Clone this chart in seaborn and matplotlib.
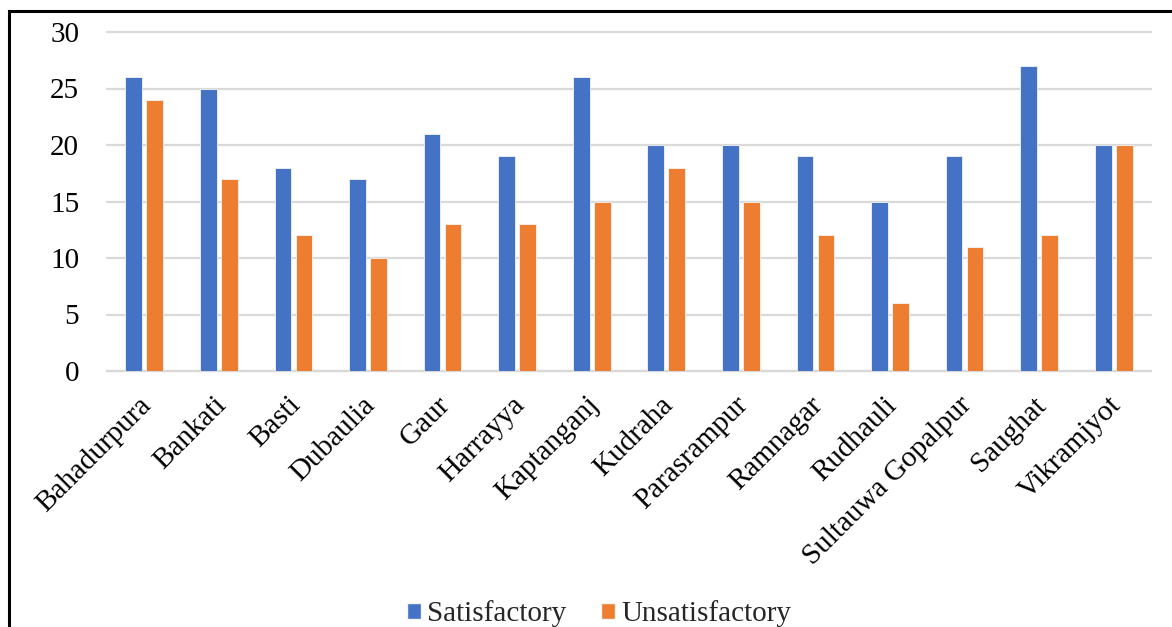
import matplotlib
matplotlib.use("Agg")
import matplotlib.pyplot as plt
import matplotlib.patches as mpatches
import matplotlib.transforms as mtransforms
import pandas as pd
import seaborn as sns

blocks = ["Bahadurpura", "Bankati", "Basti", "Dubaulia", "Gaur", "Harrayya",
          "Kaptanganj", "Kudraha", "Parasrampur", "Ramnagar", "Rudhauli",
          "Sultauwa Gopalpur", "Saughat", "Vikramjyot"]
satisfactory = [26, 25, 18, 17, 21, 19, 26, 20, 20, 19, 15, 19, 27, 20]
unsatisfactory = [24, 17, 12, 10, 13, 13, 15, 18, 15, 12, 6, 11, 12, 20]
series_names = ["Satisfactory", "Unsatisfactory"]
colors = ["#4472C4", "#ED7D31"]

df = pd.DataFrame({
    "Block": blocks * 2,
    "Count": satisfactory + unsatisfactory,
    "Status": [series_names[0]] * len(blocks) + [series_names[1]] * len(blocks),
})

sns.set_theme(style="white")
plt.rcParams["font.family"] = ["Liberation Serif", "DejaVu Serif"]

fig = plt.figure(figsize=(11.72, 6.27), dpi=100)
ax = fig.add_axes([107 / 1172, 1 - 371 / 627, (1151 - 107) / 1172, (371 - 32) / 627])

sns.barplot(data=df, x="Block", y="Count", hue="Status", palette=colors,
            saturation=1, width=0.56, gap=0.2, edgecolor="#f4f4f4", linewidth=0.6,
            ax=ax, legend=False, zorder=3)

ax.set_ylim(0, 30)
ax.set_yticks(range(0, 31, 5))
ax.set_xlim(-0.5, len(blocks) - 0.5)
ax.yaxis.grid(True, color="#d9d9d9", linewidth=1.6, zorder=0)
for gl in ax.get_ygridlines():
    gl.set_clip_on(False)
ax.xaxis.grid(False)
ax.set_axisbelow(True)
for s in ["top", "right", "left"]:
    ax.spines[s].set_visible(False)
ax.spines["bottom"].set_color("#d9d9d9")
ax.spines["bottom"].set_linewidth(1.6)
ax.set_xlabel("")
ax.set_ylabel("")
ax.tick_params(axis="y", length=0, pad=20, labelsize=21, colors="black")
ax.tick_params(axis="x", length=0, pad=15, labelsize=21, colors="black")
shift = mtransforms.ScaledTranslation(-6 / 100, 0, fig.dpi_scale_trans)
for lab in ax.get_xticklabels():
    lab.set_rotation(45)
    lab.set_ha("right")
    lab.set_rotation_mode("anchor")
    lab.set_transform(lab.get_transform() + shift)

handles = [mpatches.Patch(facecolor=c, edgecolor="#f4f4f4", label=n)
           for c, n in zip(colors, series_names)]
fig.legend(handles=handles, loc="center", bbox_to_anchor=(599 / 1172, 1 - 614 / 627),
           ncol=2, frameon=False, fontsize=21, handlelength=0.48, handleheight=0.48,
           handletextpad=0.2, columnspacing=1.2)

# outer frame around the chart
frame = mpatches.Rectangle((9.5 / 1172, -0.1), 1.2, 1 - 11 / 627 + 0.1,
                           transform=fig.transFigure, fill=False,
                           edgecolor="black", linewidth=2.2, clip_on=False)
fig.patches.append(frame)

fig.savefig("out.png", dpi=100, facecolor="white")
